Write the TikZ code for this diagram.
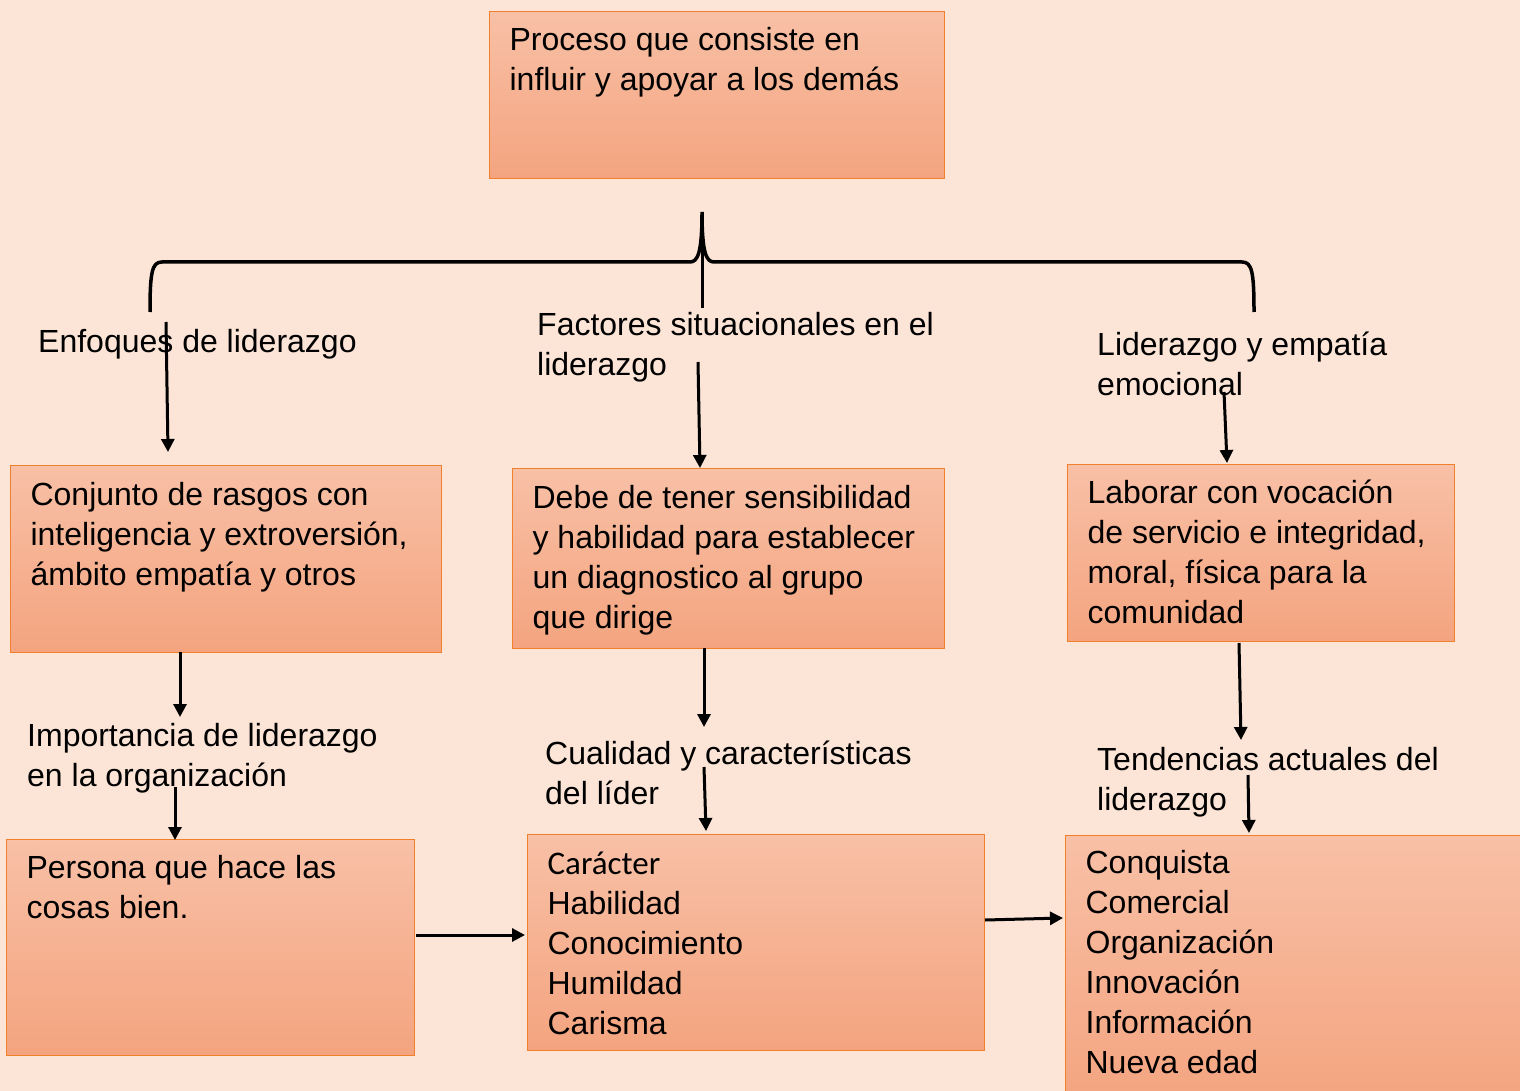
\documentclass[tikz,border=0pt]{standalone}
\usepackage{fontspec}
\setmainfont{Liberation Sans}
\newfontfamily\calibrifont{Carlito}
\usetikzlibrary{arrows.meta}
\definecolor{bg}{HTML}{FCE4D6}
\definecolor{boxtop}{HTML}{F8C0A6}
\definecolor{boxbot}{HTML}{F4A47F}
\definecolor{boxline}{HTML}{F0802C}
\newcommand{\boxtxt}[4]{\parbox[c][#2][t]{#1}{\raggedright\leftskip=20pt\rule{0pt}{#3}#4}}
\tikzset{
 cbox/.style={draw=boxline, line width=1.2pt, top color=boxtop, bottom color=boxbot, inner sep=0pt, anchor=north west, font=\fontsize{32}{40}\selectfont},
 lbl/.style={inner sep=0pt, anchor=base west, font=\fontsize{32}{40}\selectfont},
 arr/.style={line width=3pt, -{Triangle[length=13pt,width=13pt]}},
 bracestyle/.style={line width=3.5pt}
}
\begin{document}
\begin{tikzpicture}[x=1pt,y=1pt]
\useasboundingbox (0,0) rectangle (1520,-1091);
\fill[bg] (0,0) rectangle (1520,-1091);
\clip (0,0) rectangle (1520,-1091);
% boxes
\node[cbox] (top) at (489,-11) {\boxtxt{455pt}{167pt}{39pt}{Proceso que consiste en\\influir y apoyar a los demás}};
\node[cbox] (L1) at (10,-465) {\boxtxt{431pt}{187pt}{40pt}{Conjunto de rasgos con\\inteligencia y extroversión,\\ámbito empatía y otros}};
\node[cbox] (M1) at (512,-468) {\boxtxt{432pt}{180pt}{40pt}{Debe de tener sensibilidad\\y habilidad para establecer\\un diagnostico al grupo\\que dirige}};
\node[cbox] (R1) at (1067,-464) {\boxtxt{387pt}{177pt}{39pt}{Laborar con vocación\\de servicio e integridad,\\moral, física para la\\comunidad}};
\node[cbox] (L2) at (6,-839) {\boxtxt{408pt}{216pt}{39pt}{Persona que hace las\\cosas bien.}};
\node[cbox] (M2) at (527,-834) {\boxtxt{457pt}{216pt}{40pt}{{\calibrifont\fontsize{33}{40}\selectfont Carácter}\\Habilidad\\Conocimiento\\Humildad\\Carisma}};
\node[cbox] (R2) at (1065,-835) {\boxtxt{470pt}{270pt}{38pt}{Conquista\\Comercial\\Organización\\Innovación\\Información\\Nueva edad}};
% labels
\node[lbl] (enf) at (38,-352) {Enfoques de liderazgo};
\node[lbl] (fac) at (537,-335) {\parbox[t]{440pt}{Factores situacionales en el\\liderazgo}};
\node[lbl] (lid) at (1097,-355) {\parbox[t]{380pt}{Liderazgo y empatía\\emocional}};
\node[lbl] (imp) at (27,-746) {\parbox[t]{440pt}{Importancia de liderazgo\\en la organización}};
\node[lbl] (cua) at (545,-764) {\parbox[t]{440pt}{Cualidad y características\\del líder}};
\node[lbl] (ten) at (1097,-770) {\parbox[t]{420pt}{Tendencias actuales del\\liderazgo}};
% brace
\coordinate (bl) at (150,-312);
\coordinate (br) at (1254,-312);
\coordinate (btip) at (702,-212);
\coordinate (bstem) at (702,-308);
\draw[bracestyle] (bl) .. controls (150,-272) and (152,-262) .. (162,-262) -- (690,-262)
  .. controls (698,-262) and (702,-252) .. (btip)
  .. controls (702,-252) and (706,-262) .. (714,-262) -- (1242,-262)
  .. controls (1252,-262) and (1254,-272) .. (br);
\draw[line width=3pt] (btip) -- (bstem);
% arrows
\coordinate (a1s) at (166,-322); \coordinate (a1e) at (168,-452);
\coordinate (a2s) at (698,-362); \coordinate (a2e) at (700,-468);
\coordinate (a3s) at (1224,-392); \coordinate (a3e) at (1227,-463);
\coordinate (a4s) at (180,-652); \coordinate (a4e) at (180,-717);
\coordinate (a5s) at (175,-787); \coordinate (a5e) at (175,-840);
\coordinate (a6s) at (704,-648); \coordinate (a6e) at (704,-727);
\coordinate (a7s) at (704,-767); \coordinate (a7e) at (706,-831);
\coordinate (a8s) at (1239,-643); \coordinate (a8e) at (1241,-740);
\coordinate (a9s) at (1248,-775); \coordinate (a9e) at (1249,-833);
\coordinate (a10s) at (416,-935); \coordinate (a10e) at (525,-935);
\coordinate (a11s) at (985,-920); \coordinate (a11e) at (1063,-918);
\foreach \i in {1,...,11} {\draw[arr] (a\i s) -- (a\i e);}
\end{tikzpicture}
\end{document}
